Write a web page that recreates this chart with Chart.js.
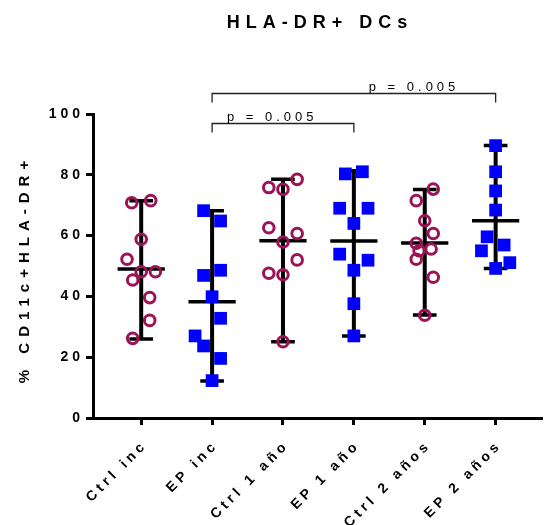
<!DOCTYPE html>
<html><head><meta charset="utf-8">
<script src="https://cdn.jsdelivr.net/npm/chart.js@4/dist/chart.umd.min.js"></script>
<style>html,body{margin:0;padding:0;background:#fff}</style>
</head><body>
<canvas id="c" width="550" height="525" style="display:block;width:550px;height:525px"></canvas>
<script>
// ---- data ----
const categories = ['Ctrl inc', 'EP inc', 'Ctrl 1 año', 'EP 1 año', 'Ctrl 2 años', 'EP 2 años'];
const ctrlInc   = [70.8, 71.5, 58.8, 52.2, 48.1, 48.1, 45.4, 39.6, 32.1, 26.2];
const epInc     = [68.2, 64.8, 46.9, 48.6, 39.9, 32.8, 27.0, 23.7, 19.6, 12.3];
const ctrl1     = [78.5, 75.8, 75.2, 62.6, 60.7, 57.9, 52.0, 47.6, 47.1, 25.1];
const ep1       = [80.3, 81.0, 69.0, 69.0, 64.0, 53.9, 51.9, 48.6, 37.6, 27.0];
const ctrl2     = [75.3, 71.5, 64.9, 60.7, 57.5, 55.0, 55.6, 52.2, 46.3, 33.8];
const ep2       = [89.6, 81.0, 74.7, 68.4, 59.6, 56.9, 55.0, 51.1, 49.2];
// scatter jitter (in marker columns) for each group
const jitCtrlInc = [-0.67, 0.67, 0, -1, 0, 1, -0.6, 0.6, 0.6, -0.6];
const jitEpInc   = [-0.6, 0.6, -0.6, 0.6, 0, 0.6, -1.2, -0.6, 0.6, 0];
const jitCtrl1   = [1, -1, 0, -1, 1, 0, 1, -1, 0, 0];
const jitEp1     = [-0.6, 0.6, -1, 1, 0, -1, 1, 0, 0, 0];
const jitCtrl2   = [0.6, -0.6, 0, 0.6, -0.6, -0.4, 0.45, -0.6, 0.6, 0];
const jitEp2     = [0, 0, 0, 0, -0.6, 0.6, -1, 1, 0];
// median with range, as drawn
const medians = [49.0, 38.2, 58.3, 58.2, 57.6, 64.9];
const mins    = [26.0, 12.2, 25.1, 27.0, 33.9, 49.2];
const maxs    = [71.5, 68.2, 78.5, 81.3, 75.2, 89.6];
const yTicks  = [0, 20, 40, 60, 80, 100];
// significance brackets
const bracketFrom  = [2, 2];
const bracketTo    = [4, 6];
const bracketLevel = [96.9, 107.0];
const bracketText  = ['p = 0.005', 'p = 0.005'];
const bracketTextX = [2.21, 4.21];

const title = 'HLA-DR+ DCs';
const yTitle = '% CD11c+HLA-DR+';

const MAROON = '#9C1457';
const BLUE = '#0000FF';
const COL = 0.2; // x units per jitter column

function pts(vals, jit, idx) {
  return vals.map((v, i) => ({x: idx + 1 + jit[i] * COL, y: v}));
}
const groups = [
  [ctrlInc, jitCtrlInc, 'circle'],
  [epInc, jitEpInc, 'rect'],
  [ctrl1, jitCtrl1, 'circle'],
  [ep1, jitEp1, 'rect'],
  [ctrl2, jitCtrl2, 'circle'],
  [ep2, jitEp2, 'rect']
];
const datasets = groups.map((g, i) => {
  const circ = g[2] === 'circle';
  return {
    label: categories[i],
    data: pts(g[0], g[1], i),
    pointStyle: g[2],
    pointRadius: circ ? 5.3 : 9,
    pointHoverRadius: circ ? 5.3 : 9,
    pointBorderWidth: circ ? 3 : 0,
    pointBorderColor: circ ? MAROON : BLUE,
    pointBackgroundColor: circ ? 'rgba(0,0,0,0)' : BLUE,
    clip: false
  };
});

const FONT = '"Liberation Sans", Arial, sans-serif';

const decor = {
  id: 'decor',
  beforeDraw(chart) {
    chart.ctx.letterSpacing = '4px';
  },
  beforeDatasetsDraw(chart) {
    const {ctx, scales: {x, y}} = chart;
    ctx.save();
    ctx.strokeStyle = '#000';
    ctx.lineCap = 'butt';
    for (let i = 0; i < medians.length; i++) {
      const cx = x.getPixelForValue(i + 1);
      const hw = x.getPixelForValue(i + 1 + 0.333) - cx;
      const cw = x.getPixelForValue(i + 1 + 0.167) - cx;
      const yMin = y.getPixelForValue(mins[i]);
      const yMax = y.getPixelForValue(maxs[i]);
      const yMed = y.getPixelForValue(medians[i]);
      ctx.lineWidth = 4;
      ctx.beginPath(); ctx.moveTo(cx, yMin); ctx.lineTo(cx, yMax); ctx.stroke();
      ctx.lineWidth = 3.5;
      ctx.beginPath();
      ctx.moveTo(cx - cw, yMin); ctx.lineTo(cx + cw, yMin);
      ctx.moveTo(cx - cw, yMax); ctx.lineTo(cx + cw, yMax);
      ctx.moveTo(cx - hw, yMed); ctx.lineTo(cx + hw, yMed);
      ctx.stroke();
    }
    ctx.restore();
  },
  afterDraw(chart) {
    const {ctx, chartArea, scales: {x, y}} = chart;
    ctx.save();
    // brackets
    ctx.strokeStyle = '#222';
    ctx.lineWidth = 1.3;
    ctx.fillStyle = '#000';
    ctx.font = '13px ' + FONT;
    ctx.letterSpacing = '4px';
    ctx.textAlign = 'left';
    ctx.textBaseline = 'alphabetic';
    for (let i = 0; i < bracketFrom.length; i++) {
      const x1 = x.getPixelForValue(bracketFrom[i]);
      const x2 = x.getPixelForValue(bracketTo[i]);
      const yy = Math.round(y.getPixelForValue(bracketLevel[i])) + 0.5;
      ctx.beginPath();
      ctx.moveTo(x1, yy + 9); ctx.lineTo(x1, yy); ctx.lineTo(x2, yy); ctx.lineTo(x2, yy + 9);
      ctx.stroke();
      ctx.fillText(bracketText[i], x.getPixelForValue(bracketTextX[i]), yy - 3);
    }
    // title
    ctx.font = 'bold 18px ' + FONT;
    ctx.letterSpacing = '6px';
    ctx.textAlign = 'center';
    ctx.textBaseline = 'middle';
    ctx.fillText(title, (chartArea.left + chartArea.right) / 2 + 3, 23);
    // y axis title
    ctx.font = 'bold 15px ' + FONT;
    ctx.letterSpacing = '6px';
    ctx.translate(25, (chartArea.top + chartArea.bottom) / 2 + 3);
    ctx.rotate(-Math.PI / 2);
    ctx.fillText(yTitle, 0, 0);
    ctx.restore();
  }
};

new Chart(document.getElementById('c'), {
  type: 'scatter',
  data: {datasets},
  options: {
    responsive: false,
    animation: false,
    devicePixelRatio: 1,
    layout: {padding: {top: 114, left: 0, right: 2, bottom: 0}},
    plugins: {legend: {display: false}, tooltip: {enabled: false}, title: {display: false}},
    scales: {
      x: {
        type: 'linear',
        min: 0.32, max: 6.64,
        afterBuildTicks(s) { s.ticks = categories.map((c, i) => ({value: i + 1})); },
        afterFit(s) { s.height = 107; },
        ticks: {
          autoSkip: false,
          minRotation: 45, maxRotation: 45,
          padding: 12,
          labelOffset: 4,
          color: '#000',
          font: {family: FONT, size: 14, weight: 'bold'},
          callback: (v) => categories[Math.round(v) - 1]
        },
        grid: {drawOnChartArea: false, drawTicks: true, tickLength: 7, lineWidth: 3, color: '#000'},
        border: {display: true, color: '#000', width: 3}
      },
      y: {
        min: 0, max: 100,
        afterBuildTicks(s) { s.ticks = yTicks.map(v => ({value: v})); },
        afterFit(s) { s.width = 93; },
        ticks: {
          padding: 2,
          color: '#000',
          font: {family: FONT, size: 14, weight: 'bold'}
        },
        grid: {drawOnChartArea: false, drawTicks: true, tickLength: 7, lineWidth: 3, color: '#000'},
        border: {display: true, color: '#000', width: 3}
      }
    }
  },
  plugins: [decor]
});
</script>
</body></html>
